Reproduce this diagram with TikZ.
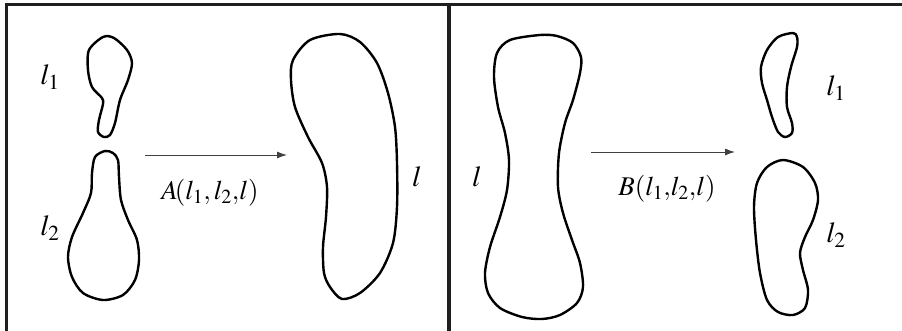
\documentclass[tikz,border=0pt]{standalone}
\usepackage{mathptmx}
\usetikzlibrary{arrows.meta}
\begin{document}
\begin{tikzpicture}[
    x=1pt, y=-1pt,
    blob/.style={line width=2.4pt, line join=round},
    frameline/.style={line width=3.2pt, black!88},
    arr/.style={-{Latex[length=10pt, width=7pt]}, line width=0.9pt, black!75},
    lbl/.style={font=\fontsize{29}{34}\selectfont, inner sep=0pt},
    oplbl/.style={font=\fontsize{27}{32}\selectfont, inner sep=0pt}
  ]
  \useasboundingbox (0,0) rectangle (902,331);
  % frame
  \draw[frameline] (6.5,331) -- (6.5,4.5) -- (902,4.5);
  \draw[frameline] (449,4.5) -- (449,331);

  % left panel: l1 and l2 merge into l
  \draw[blob] plot[smooth cycle] coordinates {(103,37) (89,50) (88,70) (92,87) (102,98)
    (103,104) (99,120) (98,132) (104,137) (110,135) (115,123) (120,100) (128,80)
    (132,63) (127,50) (114,38)};
  \draw[blob] plot[smooth cycle] coordinates {(105,151) (95,157) (92,173) (91,193)
    (83,213) (72,237) (68,257) (72,277) (83,293) (103,300) (123,295) (135,280)
    (139,260) (137,240) (128,220) (121,200) (119,177) (118,160) (113,153)};
  \draw[blob] plot[smooth cycle] coordinates {(340,34) (310,40) (293,60) (291,80)
    (295,107) (308,137) (322,163) (327,187) (326,217) (323,247) (324,273) (330,287)
    (342,299) (360,293) (380,273) (393,243) (397,207) (397,163) (395,127) (388,93)
    (377,63) (360,42)};
  \node[lbl] (la1) at (50,77) {$l_1$};
  \node[lbl] (la2) at (50,228) {$l_2$};
  \node[lbl] (la) at (417,177) {$l$};
  \coordinate (a0) at (145,155);
  \coordinate (a1) at (287,155);
  \draw[arr] (a0) -- (a1);
  \node[oplbl] (opA) at (210,193) {$A\!(l_1{,}\,l_2{,}l)$};

  % right panel: l splits into l1 and l2
  \draw[blob] plot[smooth cycle] coordinates {(540,35) (510,40) (497,53) (494,77)
    (498,107) (505,133) (509,160) (507,190) (500,217) (490,247) (485,273) (488,293)
    (500,308) (522,317) (542,319) (560,315) (577,303) (583,287) (580,263) (572,240)
    (563,213) (558,187) (559,153) (565,123) (573,100) (580,73) (581,57) (573,43)
    (557,36)};
  \draw[blob] plot[smooth cycle] coordinates {(793,33) (778,37) (767,50) (761,67)
    (762,83) (767,100) (772,117) (778,132) (785,137) (792,133) (792,123) (787,107)
    (787,87) (791,67) (797,47) (797,37)};
  \draw[blob] plot[smooth cycle] coordinates {(783,160) (767,167) (757,183) (754,207)
    (756,240) (760,273) (767,300) (778,312) (793,315) (805,308) (808,290) (803,270)
    (800,253) (805,237) (813,220) (818,200) (815,183) (803,167)};
  \node[lbl] (lb) at (477,177) {$l$};
  \node[lbl] (lb1) at (836,88) {$l_1$};
  \node[lbl] (lb2) at (836,235) {$l_2$};
  \coordinate (b0) at (591,152);
  \coordinate (b1) at (735,152);
  \draw[arr] (b0) -- (b1);
  \node[oplbl] (opB) at (667,189) {$B(l_1{,}l_2{,}l)$};
\end{tikzpicture}
\end{document}
